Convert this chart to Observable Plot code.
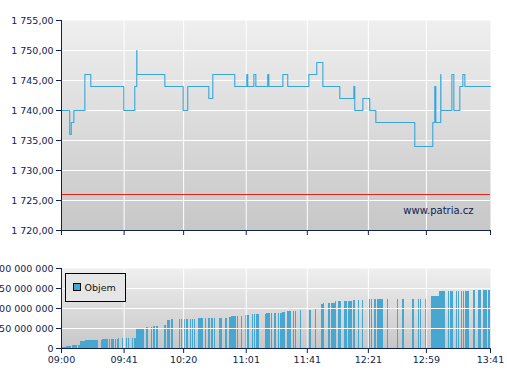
<!DOCTYPE html>
<html>
<head>
<meta charset="utf-8">
<script src="https://cdn.jsdelivr.net/npm/d3@7"></script>
<script src="https://cdn.jsdelivr.net/npm/@observablehq/plot@0.6"></script>
<style>
  html, body { margin: 0; padding: 0; background: #fff; }
  #chart svg { display: block; }
</style>
</head>
<body>
<div id="chart"></div>
<script>
// ---------- data ----------
// time axis: minutes after 09:00
const xTickLabels = ["09:00", "09:41", "10:20", "11:01", "11:41", "12:21", "12:59", "13:41"];

// price (step line), time in minutes after 09:00
const priceTime  = [0, 5.4, 6.4, 8.1, 15.3, 19.2, 40.8, 48.0, 49.3, 49.4, 67.7, 79.7, 82.7, 96.5, 99.1,
                    113.5, 121.4, 122.0, 126.0, 127.3, 135.1, 135.8, 145.0, 148.2, 162.0, 167.2, 171.2,
                    182.3, 191.5, 192.1, 197.4, 201.9, 205.9, 231.4, 243.2, 244.5, 245.2, 248.4, 248.5,
                    255.7, 257.0, 260.9, 262.9, 264.2, 281];
const priceValue = [1740, 1736, 1738, 1740, 1746, 1744, 1740, 1744, 1750, 1746, 1744, 1740, 1744, 1742, 1746,
                    1744, 1746, 1744, 1746, 1744, 1746, 1744, 1746, 1744, 1746, 1748, 1744,
                    1742, 1744, 1740, 1742, 1740, 1738, 1734, 1738, 1744, 1738, 1746, 1740,
                    1746, 1740, 1744, 1746, 1744, 1744];
const priceTicks = [1720, 1725, 1730, 1735, 1740, 1745, 1750, 1755];
const refPrice = 1726;
const watermark = "www.patria.cz";

// cumulative volume bars: start / end (minutes after 09:00), value in millions
const volStart = [0, 3.3, 5.2, 7.2, 11.1, 12.4, 15.7, 26.2, 26.9, 31.4, 32.8, 35.4, 36.7, 37.3, 40.0, 42.6, 43.9,
                  46.5, 47.8, 49.1, 50.4, 55.7, 59.0, 60.3, 62.2, 67.5, 69.4, 72.1, 77.3, 78.6, 79.9, 81.9,
                  84.5, 85.8, 87.1, 89.7, 94.3, 96.3, 98.3, 100.2, 103.5, 107.4, 110.0, 111.4, 115.3, 117.9,
                  120.5, 125.1, 126.4, 127.7, 133.6, 134.3, 137.6, 139.5, 142.1, 143.4, 144.8, 148.0, 152.0,
                  153.3, 156.5, 161.1, 162.4, 166.4, 170.3, 171.6, 174.9, 176.9, 179.5, 181.4, 185.4, 188.0,
                  191.3, 194.5, 197.2, 201.1, 203.1, 205.0, 207.0, 213.5, 220.1, 223.4, 229.9, 233.8, 235.1,
                  238.4, 239.1, 242.4, 247.6, 253.5, 254.8, 258.7, 260.0, 262.0, 263.3, 264.6, 269.9, 273.1,
                  276.4, 279.7];
const volEnd   = [3.3, 5.2, 6.6, 10.5, 12.4, 15.7, 24.2, 26.9, 30.8, 32.1, 34.7, 36.0, 37.3, 38.0, 40.6, 43.2, 44.5,
                  47.2, 49.1, 50.4, 54.4, 57.0, 59.6, 61.6, 63.5, 68.8, 71.4, 73.4, 77.9, 79.3, 81.2, 83.2,
                  85.2, 86.5, 87.8, 93.0, 95.0, 97.6, 99.6, 100.9, 105.5, 108.7, 111.4, 114.6, 115.9, 118.6,
                  123.1, 125.8, 127.1, 129.7, 134.3, 136.9, 138.2, 140.8, 142.8, 144.8, 146.7, 150.7, 152.6,
                  153.9, 157.2, 161.8, 163.8, 167.0, 171.6, 172.3, 176.2, 179.5, 180.1, 183.4, 187.3, 190.6,
                  192.6, 195.2, 197.8, 202.4, 203.7, 206.3, 210.9, 214.2, 220.7, 224.7, 231.2, 234.5, 235.8,
                  239.1, 239.7, 247.6, 251.5, 254.2, 256.8, 259.4, 260.7, 262.7, 264.0, 267.2, 271.2, 275.1,
                  279.0, 281.0];
const volValue = [2, 4, 6, 7.5, 7.5, 17.5, 20, 20, 22.5, 22.5, 22.5, 22.5, 22.5, 25, 25, 25, 25,
                  25, 25, 47.5, 50, 52.5, 52.5, 55, 55, 57.5, 70, 72.5, 72.5, 72.5, 72.5, 72.5,
                  72.5, 72.5, 72.5, 75, 75, 75, 75, 75, 75, 75, 77.5, 80, 80, 80,
                  82.5, 85, 85, 85, 85, 87.5, 87.5, 87.5, 87.5, 87.5, 90, 92.5, 92.5,
                  92.5, 95, 95, 95, 97.5, 110, 112.5, 112.5, 112.5, 117.5, 117.5, 117.5, 117.5,
                  120, 120, 120, 122.5, 122.5, 122.5, 122.5, 122.5, 122.5, 122.5, 122.5, 122.5, 122.5,
                  122.5, 130, 130, 142.5, 142.5, 142.5, 142.5, 142.5, 142.5, 142.5, 142.5, 145, 145,
                  145, 145];
const volTicks = [0, 50, 100, 150, 200]; // millions
const legendLabel = "Objem";

// ---------- helpers ----------
const toMin = s => { const [h, m] = s.split(":").map(Number); return (h - 9) * 60 + m; };
const xTicks = xTickLabels.map(toMin);
const xInner = xTicks.slice(1, -1);
const labelOf = new Map(xTicks.map((t, i) => [t, xTickLabels[i]]));

const priceData = priceTime.map((t, i) => ({t, v: priceValue[i]}));
const volData = volStart.map((s, i) => ({s, e: volEnd[i], v: volValue[i] * 1e6}));

const loc = d3.formatLocale({decimal: ",", thousands: " ", grouping: [3], currency: ["", ""]});
const fmtPrice = loc.format(",.2f");
const fmtVol = loc.format(",d");

const NAVY = "#0e2350";
const BLUE_LINE = "#38a6d8";
const BLUE_BAR = "#48a7d0";
const FONT = {fontFamily: "DejaVu Sans, Verdana, sans-serif", fontSize: "9.5px", color: NAVY, background: "transparent", overflow: "visible"};

function addGradient(svg, id) {
  const ns = "http://www.w3.org/2000/svg";
  const defs = document.createElementNS(ns, "defs");
  const g = document.createElementNS(ns, "linearGradient");
  g.setAttribute("id", id);
  g.setAttribute("x1", "0"); g.setAttribute("y1", "0");
  g.setAttribute("x2", "0"); g.setAttribute("y2", "1");
  [["0%", "#efefef"], ["100%", "#c7c7c7"]].forEach(([o, c]) => {
    const st = document.createElementNS(ns, "stop");
    st.setAttribute("offset", o); st.setAttribute("stop-color", c);
    g.appendChild(st);
  });
  defs.appendChild(g);
  svg.insertBefore(defs, svg.firstChild);
}

// ---------- price chart ----------
const priceChart = Plot.plot({
  width: 507, height: 245,
  marginTop: 20, marginBottom: 15, marginLeft: 61, marginRight: 17,
  style: FONT,
  x: {type: "linear", domain: [0, 281]},
  y: {domain: [1720, 1755]},
  marks: [
    Plot.frame({fill: "url(#bgTop)", stroke: "none"}),
    Plot.gridY(priceTicks.slice(1, -1), {stroke: "#fff", strokeOpacity: 1, strokeWidth: 1}),
    Plot.gridX(xInner, {stroke: "#fff", strokeOpacity: 1, strokeWidth: 1}),
    Plot.ruleY([refPrice], {stroke: "#e2231a", strokeWidth: 1}),
    Plot.line(priceData, {x: "t", y: "v", curve: "step-after", stroke: BLUE_LINE, strokeWidth: 1.1}),
    Plot.text([watermark], {frameAnchor: "bottom-right", dx: -17, dy: -17, textAnchor: "end", fill: NAVY, fontSize: 10}),
    Plot.axisY(priceTicks, {tickFormat: fmtPrice, tickSize: 5, tickPadding: 3, stroke: NAVY, fill: NAVY, label: null}),
    Plot.axisX(xTicks, {tickFormat: () => "", tickSize: 5, stroke: NAVY, label: null}),
    Plot.ruleX([0], {stroke: NAVY}),
    Plot.ruleY([1720], {stroke: NAVY})
  ]
});
addGradient(priceChart, "bgTop");

// ---------- volume chart ----------
const volChart = Plot.plot({
  width: 507, height: 135,
  marginTop: 23, marginBottom: 32, marginLeft: 61, marginRight: 17,
  style: FONT,
  x: {type: "linear", domain: [0, 281]},
  y: {domain: [0, 200e6]},
  marks: [
    Plot.frame({fill: "url(#bgVol)", stroke: "none"}),
    Plot.rectY(volData, {x1: "s", x2: "e", y: "v", fill: BLUE_BAR, inset: 0, shapeRendering: "crispEdges"}),
    Plot.gridY(volTicks.slice(1, -1).map(d => d * 1e6), {stroke: "#fff", strokeOpacity: 1, strokeWidth: 1}),
    Plot.gridX(xInner, {stroke: "#fff", strokeOpacity: 1, strokeWidth: 1}),
    Plot.axisY(volTicks.map(d => d * 1e6), {tickFormat: fmtVol, tickSize: 5, tickPadding: 3, stroke: NAVY, fill: NAVY, label: null}),
    Plot.axisX(xTicks, {tickFormat: d => labelOf.get(d), tickSize: 5, tickPadding: 3, stroke: NAVY, fill: NAVY, label: null}),
    Plot.ruleX([0], {stroke: NAVY}),
    Plot.ruleY([0], {stroke: NAVY})
  ]
});
addGradient(volChart, "bgVol");

// legend box inside the volume panel
const lg = d3.select(volChart).append("g").attr("text-anchor", "start");
lg.append("rect").attr("x", 65.5).attr("y", 28.5).attr("width", 60).attr("height", 28)
  .attr("fill", "#e6e6e6").attr("stroke", "#000");
lg.append("rect").attr("x", 73.5).attr("y", 38.5).attr("width", 7).attr("height", 7)
  .attr("fill", BLUE_BAR).attr("stroke", "#000");
lg.append("text").attr("x", 84.5).attr("y", 45.5).attr("fill", "#111").attr("text-anchor", "start")
  .style("font-family", "DejaVu Sans, Verdana, sans-serif").style("font-size", "9.5px").text(legendLabel);

const host = document.getElementById("chart");
host.appendChild(priceChart);
host.appendChild(volChart);
</script>
</body>
</html>
